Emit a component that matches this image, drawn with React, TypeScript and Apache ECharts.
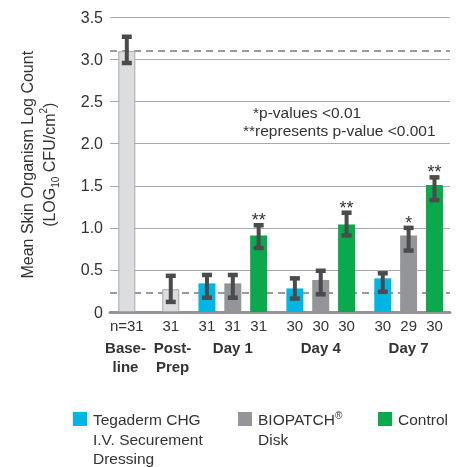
import React, { useEffect, useRef } from 'react';
import * as echarts from 'echarts';

// ---- data ----
const groupNames = ['Base-\nline', 'Post-\nPrep', 'Day 1', 'Day 4', 'Day 7'];
const barLabels = ['n=31', '31', '31', '31', '31', '30', '30', '30', '30', '29', '30'];
const barKinds = ['ref', 'ref', 'teg', 'bio', 'ctl', 'teg', 'bio', 'ctl', 'teg', 'bio', 'ctl'];
const means = [3.10, 0.27, 0.34, 0.34, 0.91, 0.28, 0.38, 1.04, 0.40, 0.91, 1.51];
const lows = [2.96, 0.12, 0.17, 0.17, 0.76, 0.16, 0.21, 0.91, 0.24, 0.73, 1.33];
const highs = [3.27, 0.43, 0.44, 0.44, 1.03, 0.40, 0.49, 1.18, 0.46, 1.00, 1.60];
const sigMarks = ['', '', '', '', '**', '', '', '**', '', '*', '**'];
const refLines = [3.10, 0.23];
const legendNames = ['Tegaderm CHG\nI.V. Securement\nDressing', 'BIOPATCH{sup|®}\nDisk', 'Control'];
const noteLines = ['*p-values <0.01', '**represents p-value <0.001'];

// ---- layout (positions on the x value axis) ----
const xSlots = [0.65, 2.35, 3.75, 4.75, 5.75, 7.15, 8.15, 9.15, 10.55, 11.55, 12.55];
const groupCenters = [0.6, 2.42, 4.75, 8.15, 11.55];
const X_MAX = 13.15;

const FONT = '"Liberation Sans", Arial, sans-serif';
const TEXT = '#333333';
const kindColor: Record<string, string> = {
  ref: '#dcdddf',
  teg: '#00b6e3',
  bio: '#939598',
  ctl: '#0aaa4c',
};
const legendKinds = ['teg', 'bio', 'ctl'];
const legendX = [73, 238, 378];
const ERR = '#4b4b4d';

function idxOf(arr: number[], v: number) {
  for (let i = 0; i < arr.length; i++) if (Math.abs(arr[i] - v) < 1e-6) return i;
  return -1;
}

export default function App() {
  const ref = useRef<HTMLDivElement>(null);
  useEffect(() => {
    if (!ref.current) return;
    const chart = echarts.init(ref.current, undefined, { renderer: 'svg' });

    const graphic: any[] = [];
    noteLines.forEach((t, i) => {
      graphic.push({
        type: 'text',
        left: i === 0 ? 253 : 243,
        top: i === 0 ? 104 : 122,
        style: { text: t, fill: TEXT, font: `15.5px ${FONT}` },
      });
    });
    legendNames.forEach((n, i) => {
      graphic.push({
        type: 'rect',
        shape: { x: legendX[i], y: 412, width: 14, height: 14 },
        style: { fill: kindColor[legendKinds[i]] },
      });
      graphic.push({
        type: 'text',
        x: legendX[i] + 20,
        y: 410,
        style: {
          text: n,
          fill: TEXT,
          fontSize: 15.5,
          fontFamily: FONT,
          lineHeight: 19.5,
          verticalAlign: 'top',
          rich: {
            sup: { fontSize: 10, lineHeight: 12, verticalAlign: 'top', fill: TEXT, fontFamily: FONT },
          },
        },
      });
    });

    const option: any = {
      animation: false,
      grid: { left: 110, right: 14, top: 17.5, bottom: 155 },
      xAxis: [
        {
          type: 'value',
          min: 0,
          max: X_MAX,
          axisLine: { show: true, lineStyle: { color: '#939598', width: 3 } },
          axisTick: { show: false },
          splitLine: { show: false },
          axisLabel: {
            customValues: xSlots,
            formatter: (v: number) => barLabels[idxOf(xSlots, v)] ?? '',
            fontSize: 15,
            lineHeight: 16,
            margin: 5,
            color: TEXT,
            fontFamily: FONT,
          },
        },
        {
          type: 'value',
          min: 0,
          max: X_MAX,
          position: 'bottom',
          offset: 0,
          axisLine: { show: false },
          axisTick: { show: false },
          splitLine: { show: false },
          axisLabel: {
            customValues: groupCenters,
            formatter: (v: number) => groupNames[idxOf(groupCenters, v)] ?? '',
            fontSize: 15,
            fontWeight: 'bold',
            lineHeight: 19,
            margin: 26,
            color: TEXT,
            fontFamily: FONT,
          },
        },
      ],
      yAxis: {
        type: 'value',
        min: 0,
        max: 3.5,
        interval: 0.5,
        axisLine: { show: false },
        axisTick: { show: false },
        splitLine: { lineStyle: { color: '#a7a9ac', width: 1 } },
        axisLabel: {
          formatter: (v: number) => (v === 0 ? '0' : v.toFixed(1)),
          fontSize: 16,
          margin: 7,
          color: TEXT,
          fontFamily: FONT,
        },
        name: 'Mean Skin Organism Log Count\n(LOG{sub|10} CFU/cm{sup|2})',
        nameLocation: 'middle',
        nameGap: 50,
        nameTextStyle: {
          fontSize: 16,
          lineHeight: 22,
          color: TEXT,
          fontFamily: FONT,
          rich: {
            sub: { fontSize: 10, lineHeight: 10, verticalAlign: 'bottom', color: TEXT, fontFamily: FONT },
            sup: { fontSize: 10, lineHeight: 10, verticalAlign: 'top', color: TEXT, fontFamily: FONT },
          },
        },
      },
      graphic,
      series: [
        {
          type: 'bar',
          xAxisIndex: 0,
          barWidth: 17,
          z: 3,
          data: xSlots.map((x, i) => ({
            value: [x, means[i]],
            itemStyle: {
              color: kindColor[barKinds[i]],
              borderColor: barKinds[i] === 'ref' ? '#a7a9ac' : 'transparent',
              borderWidth: barKinds[i] === 'ref' ? 1 : 0,
            },
          })),
          markLine: {
            silent: true,
            z: 2,
            symbol: ['none', 'none'],
            label: { show: false },
            lineStyle: { color: '#9b9b9b', type: [7, 5], width: 2 },
            data: refLines.map((v) => ({ yAxis: v })),
          },
        },
        {
          type: 'custom',
          xAxisIndex: 0,
          z: 5,
          data: xSlots.map((x, i) => [x, lows[i], highs[i]]),
          encode: { x: 0, y: [1, 2] },
          renderItem: (params: any, api: any) => {
            const x = api.value(0);
            const pLo = api.coord([x, api.value(1)]);
            const pHi = api.coord([x, api.value(2)]);
            const children: any[] = [
              {
                type: 'line',
                shape: { x1: pHi[0], y1: pHi[1], x2: pLo[0], y2: pLo[1] },
                style: { stroke: ERR, lineWidth: 4 },
              },
              {
                type: 'rect',
                shape: { x: pHi[0] - 5, y: pHi[1] - 2.25, width: 10, height: 4.5 },
                style: { fill: ERR },
              },
              {
                type: 'rect',
                shape: { x: pLo[0] - 5, y: pLo[1] - 2.25, width: 10, height: 4.5 },
                style: { fill: ERR },
              },
            ];
            const s = sigMarks[params.dataIndex];
            if (s) {
              children.push({
                type: 'text',
                x: pHi[0],
                y: pHi[1] - 5,
                style: {
                  text: s,
                  fill: TEXT,
                  fontSize: 18,
                  fontFamily: FONT,
                  align: 'center',
                  verticalAlign: 'middle',
                },
              });
            }
            return { type: 'group', children };
          },
        },
      ],
    };
    chart.setOption(option);
    return () => chart.dispose();
  }, []);
  return (
    <div
      ref={ref}
      style={{ position: 'fixed', left: 0, top: 0, width: 464, height: 467 }}
    />
  );
}
